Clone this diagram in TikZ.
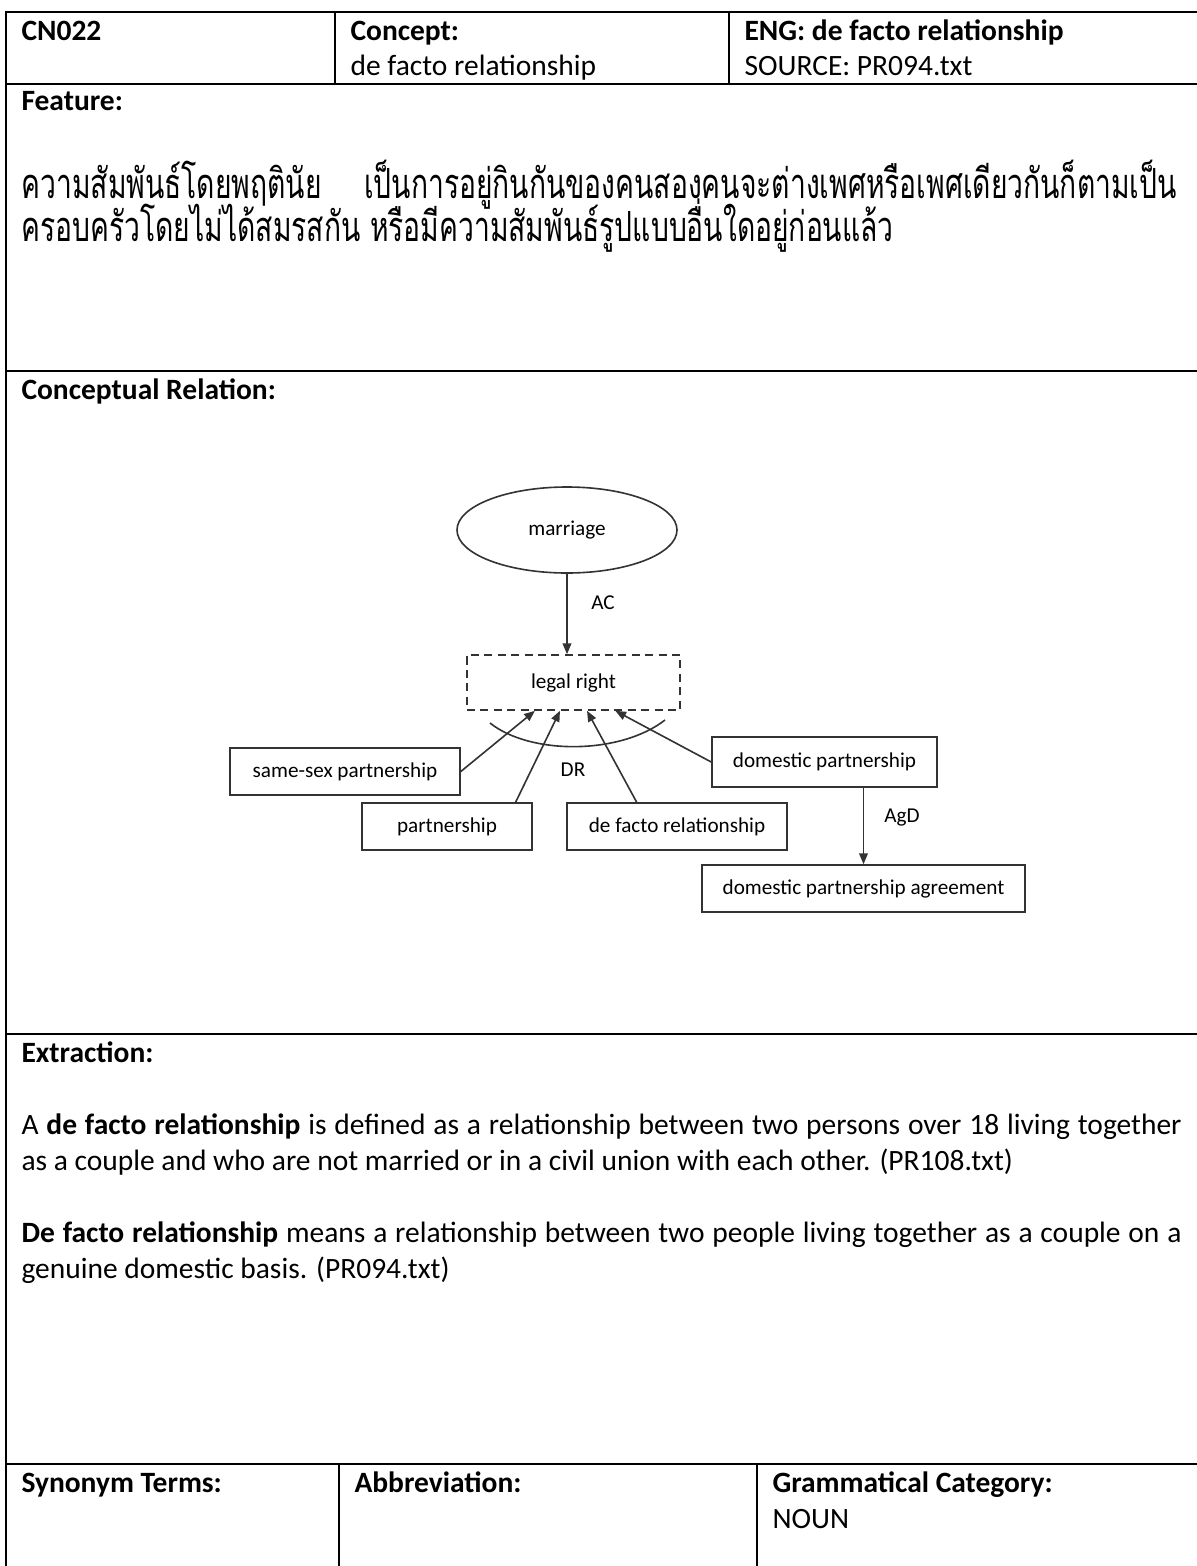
\documentclass[tikz,border=0pt]{standalone}
\usepackage{fontspec}
\setmainfont{Carlito}[WordSpace={1,1.5,0}]
\newfontfamily\thaifont[Script=Thai,FakeStretch=0.68]{Loma}
\usetikzlibrary{arrows.meta,shapes.geometric,calc}
\hyphenpenalty=10000
\exhyphenpenalty=10000
\newcommand\pxu{0.3731pt}
\begin{document}
\begin{tikzpicture}[x=0.3731pt,y=-0.3731pt,
  rule/.style={line width=0.75pt,black},
  txt/.style={anchor=base west,inner sep=0pt,font=\fontsize{11}{13.43}\selectfont},
  hd/.style={anchor=base west,inner sep=0pt,font=\fontsize{11}{13.43}\selectfont\bfseries},
  para/.style={anchor=base west,inner sep=0pt,text width=432.8pt,align=justify,
    font=\fontsize{11}{13.43}\selectfont},
  thai/.style={anchor=base west,inner sep=0pt,font=\thaifont\fontsize{15.5}{18}\selectfont},
  box/.style={draw=black!80,line width=0.6pt,rectangle,inner sep=0pt,
    font=\fontsize{7.9}{9.5}\selectfont},
  oval/.style={box,ellipse},
  link/.style={draw=black!80,line width=0.6pt,-{Triangle[length=4pt,width=3.2pt]}},
  lbl/.style={inner sep=0pt,font=\fontsize{7.9}{9.5}\selectfont}
]
\fill[white] (0,0) rectangle (1197,1566);
\useasboundingbox (0,0) rectangle (1197,1566);

% table rules
\draw[rule] (6,1566) -- (6,12) -- (1197,12);
\draw[rule] (6,84) -- (1197,84);
\draw[rule] (335,12) -- (335,84);
\draw[rule] (729,12) -- (729,84);
\draw[rule] (6,371) -- (1197,371);
\draw[rule] (6,1034) -- (1197,1034);
\draw[rule] (6,1464) -- (1197,1464);
\draw[rule] (339,1464) -- (339,1566);
\draw[rule] (757,1464) -- (757,1566);

% header row
\node[hd] (id) at (21,40) {CN022};
\node[hd] (conh) at (350,40) {Concept:};
\node[txt] (con) at (350,76) {de facto relationship};
\node[hd] (engh) at (744,40) {ENG: de facto relationship};
\node[txt] (src) at (744,76) {SOURCE: PR094.txt};

% feature
\node[hd] (feat) at (21,110) {Feature:};
\node[thai] (th1) at (21,198) {\makebox[431pt][l]{ความสัมพันธ์โดยพฤตินัย\hfill เป็นการอยู่กินกันของคนสองคนจะต่างเพศหรือเพศเดียวกันก็ตามเป็น}};
\node[thai] (th2) at (21,241) {ครอบครัวโดยไม่ได้สมรสกัน หรือมีความสัมพันธ์รูปแบบอื่นใดอยู่ก่อนแล้ว};

% conceptual relation
\node[hd] (crel) at (21,399) {Conceptual Relation:};
\node[oval,minimum width=220*\pxu,minimum height=86*\pxu] (mar) at (567,530) {marriage};
\node[box,dash pattern=on 3pt off 2pt,minimum width=213*\pxu,minimum height=55*\pxu] (lr) at (573.5,682.5) {legal right};
\node[box,minimum width=230*\pxu,minimum height=47*\pxu] (ss) at (345,771.5) {same-sex partnership};
\node[box,minimum width=170*\pxu,minimum height=47*\pxu] (pa) at (447,826.5) {partnership};
\node[box,minimum width=220*\pxu,minimum height=47*\pxu] (df) at (677,826.5) {de facto relationship};
\node[box,minimum width=225*\pxu,minimum height=50*\pxu] (dp) at (824.5,762) {domestic partnership};
\node[box,minimum width=323*\pxu,minimum height=47*\pxu] (ag) at (863.5,888.5) {domestic partnership agreement};
\node[lbl] (ac) at (603,603) {AC};
\node[lbl] (dr) at (573,770) {DR};
\node[lbl] (agd) at (902,818) {AgD};

\draw[link] (mar.south) -- (mar.south |- lr.north);
\draw[link] (ss.east) -- ($(lr.south west)!0.32!(lr.south east)$);
\draw[link] ($(pa.north west)!0.9!(pa.north east)$) -- ($(lr.south west)!0.437!(lr.south east)$);
\draw[link] ($(df.north west)!0.318!(df.north east)$) -- ($(lr.south west)!0.563!(lr.south east)$);
\draw[link] (dp.west) -- ($(lr.south west)!0.695!(lr.south east)$);
\draw[draw=black!80,line width=0.6pt] (490,723) .. controls (530,755) and (620,755) .. (665,720);
\draw[link] (dp.south -| ag.north) -- (ag.north);

% extraction
\node[hd] (ext) at (21,1062) {Extraction:};
\node[para] (p1) at (21,1134) {A \textbf{de facto relationship} is defined as a relationship between two persons over 18 living together as a couple and who are not married or in a civil union with each other. (PR108.txt)};
\node[para] (p2) at (21,1242) {\textbf{De facto relationship} means a relationship between two people living together as a couple on a genuine domestic basis. (PR094.txt)};

% bottom row
\node[hd] (syn) at (21,1492) {Synonym Terms:};
\node[hd] (abb) at (354,1492) {Abbreviation:};
\node[hd] (gram) at (772,1492) {Grammatical Category:};
\node[txt] (noun) at (772,1528) {NOUN};
\end{tikzpicture}
\end{document}
